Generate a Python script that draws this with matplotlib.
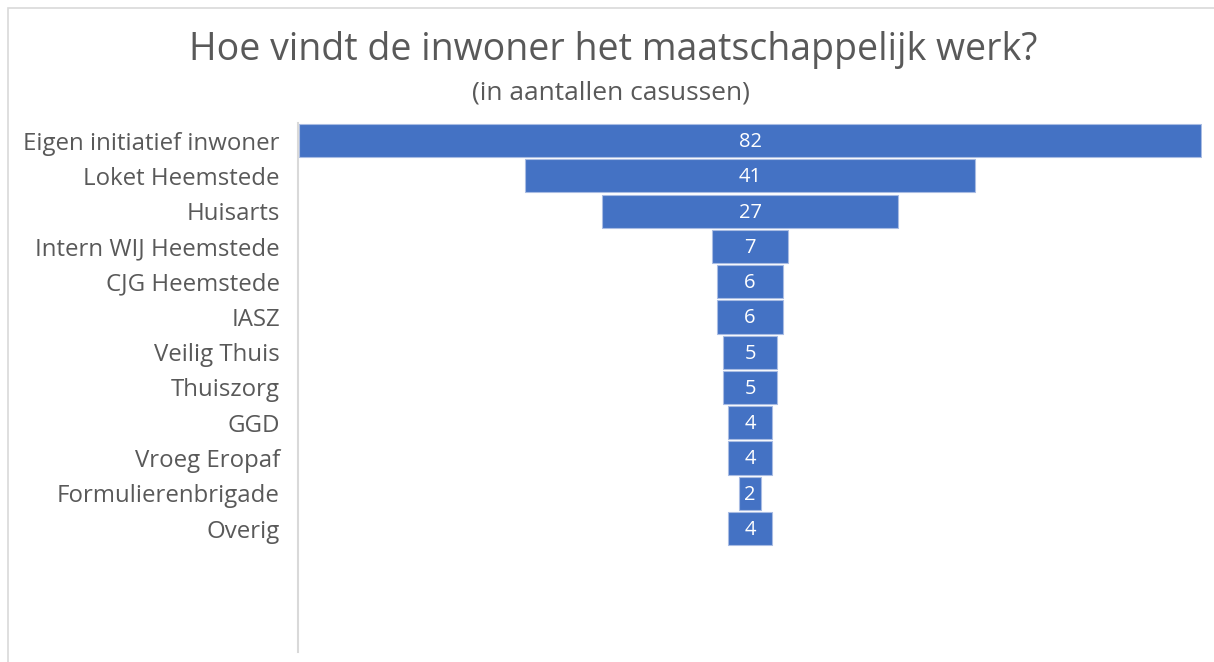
import matplotlib.pyplot as plt
from matplotlib.patches import Rectangle

plt.rcParams['font.family'] = ['Open Sans', 'DejaVu Sans']

categories = ["Eigen initiatief inwoner", "Loket Heemstede", "Huisarts", "Intern WIJ Heemstede",
              "CJG Heemstede", "IASZ", "Veilig Thuis", "Thuiszorg", "GGD", "Vroeg Eropaf",
              "Formulierenbrigade", "Overig"]
values = [82, 41, 27, 7, 6, 6, 5, 5, 4, 4, 2, 4]

W, H = 1214, 662
fig = plt.figure(figsize=(W / 100, H / 100), dpi=100)

# kader rond de grafiek
fig.patches.append(Rectangle((8 / W, -0.01), 1.0, 1 - 8 / H + 0.01, transform=fig.transFigure,
                             fill=False, edgecolor='#D9D9D9', linewidth=1.2))

ax = fig.add_axes([298 / W, 1 - 652 / H, (1202 - 298) / W, (652 - 123) / H])

ypos = list(range(len(values)))
lefts = [-v / 2 for v in values]
ax.barh(ypos, values, left=lefts, height=0.94, color='#4472C4', edgecolor='#A9BCE3', linewidth=0.8)
for y, v in zip(ypos, values):
    ax.text(0, y + 0.04, str(v), ha='center', va='center', color='white', fontsize=14.5)

ax.set_xlim(-41.1, 41.1)
ax.set_ylim(14.5, -0.5)
ax.set_yticks(ypos)
ax.set_yticklabels(categories, fontsize=17.3, color='#595959')
ax.tick_params(axis='y', length=0, pad=13)
ax.set_xticks([])
for s in ['top', 'right', 'bottom']:
    ax.spines[s].set_visible(False)
ax.spines['left'].set_color('#D9D9D9')
ax.spines['left'].set_linewidth(1.5)

fig.text(613 / W, 1 - 50 / H, "Hoe vindt de inwoner het maatschappelijk werk?", ha='center', va='center',
         fontsize=27, color='#595959')
fig.text(611 / W, 1 - 93 / H, "(in aantallen casussen)", ha='center', va='center',
         fontsize=19, color='#595959')

fig.savefig('out.png', dpi=100)
